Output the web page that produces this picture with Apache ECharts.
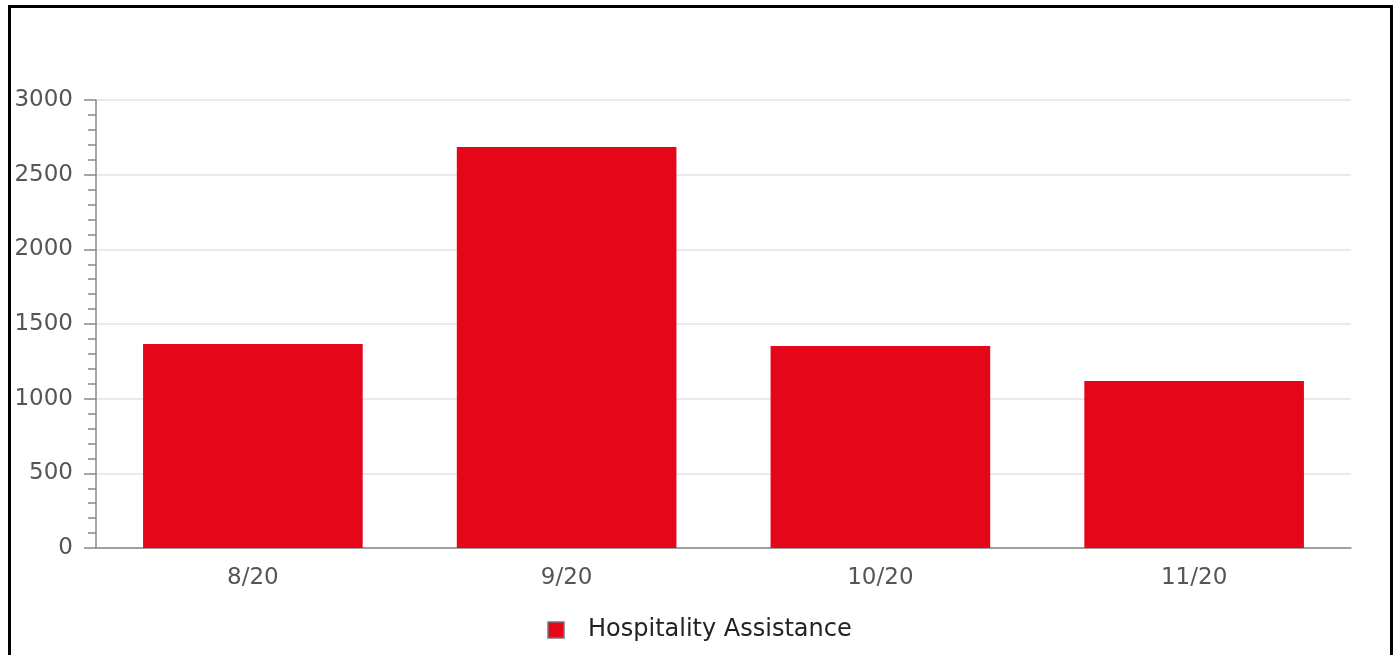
<!DOCTYPE html>
<html><head><meta charset="utf-8">
<script src="https://cdn.jsdelivr.net/npm/echarts@6/dist/echarts.min.js"></script>
<style>
html,body{margin:0;padding:0;background:#fff;}
#frame{position:absolute;left:8px;top:5px;width:1385px;height:651px;border:3px solid #000;border-bottom:1px solid #999;box-sizing:border-box;}
#c{position:absolute;left:0;top:0;width:1399px;height:655px;}
</style></head>
<body>
<div id="frame"></div>
<div id="c"></div>
<script>
var categories = ['8/20','9/20','10/20','11/20'];
var seriesName = 'Hospitality Assistance';
var values = [1366, 2685, 1353, 1118];
var yTicks = [0, 500, 1000, 1500, 2000, 2500, 3000];

var chart = echarts.init(document.getElementById('c'));
chart.setOption({
  animation:false,
  textStyle:{fontFamily:'DejaVu Sans'},
  grid:{left:96,right:48,top:100,bottom:107,containLabel:false},
  legend:{
    top:613,left:'center',itemWidth:16,itemHeight:16,itemGap:20,
    icon:'rect',
    textStyle:{fontSize:24,color:'#222',fontFamily:'DejaVu Sans',padding:[0,0,0,19]},
    data:[{name:seriesName,itemStyle:{borderColor:'#777',borderWidth:1.5}}]
  },
  xAxis:{
    type:'category',data:categories,
    axisLine:{lineStyle:{color:'#888',width:1.5}},
    axisTick:{show:false},
    axisLabel:{fontSize:23,color:'#555',margin:19,fontFamily:'DejaVu Sans'}
  },
  yAxis:{
    type:'value',min:yTicks[0],max:yTicks[yTicks.length-1],interval:500,
    axisLine:{show:true,lineStyle:{color:'#888',width:1.5}},
    axisTick:{show:true,length:12,lineStyle:{color:'#888',width:1.5}},
    minorTick:{show:true,splitNumber:5,length:8,lineStyle:{color:'#888',width:1.5}},
    splitLine:{lineStyle:{color:'#e3e3e3',width:1.5}},
    axisLabel:{fontSize:23,color:'#555',margin:23,fontFamily:'DejaVu Sans',
      formatter:function(v){return String(v);}}
  },
  series:[{
    name:seriesName,type:'bar',data:values,barCategoryGap:'30%',
    itemStyle:{color:'#e50719'}
  }]
});
</script>
</body></html>
